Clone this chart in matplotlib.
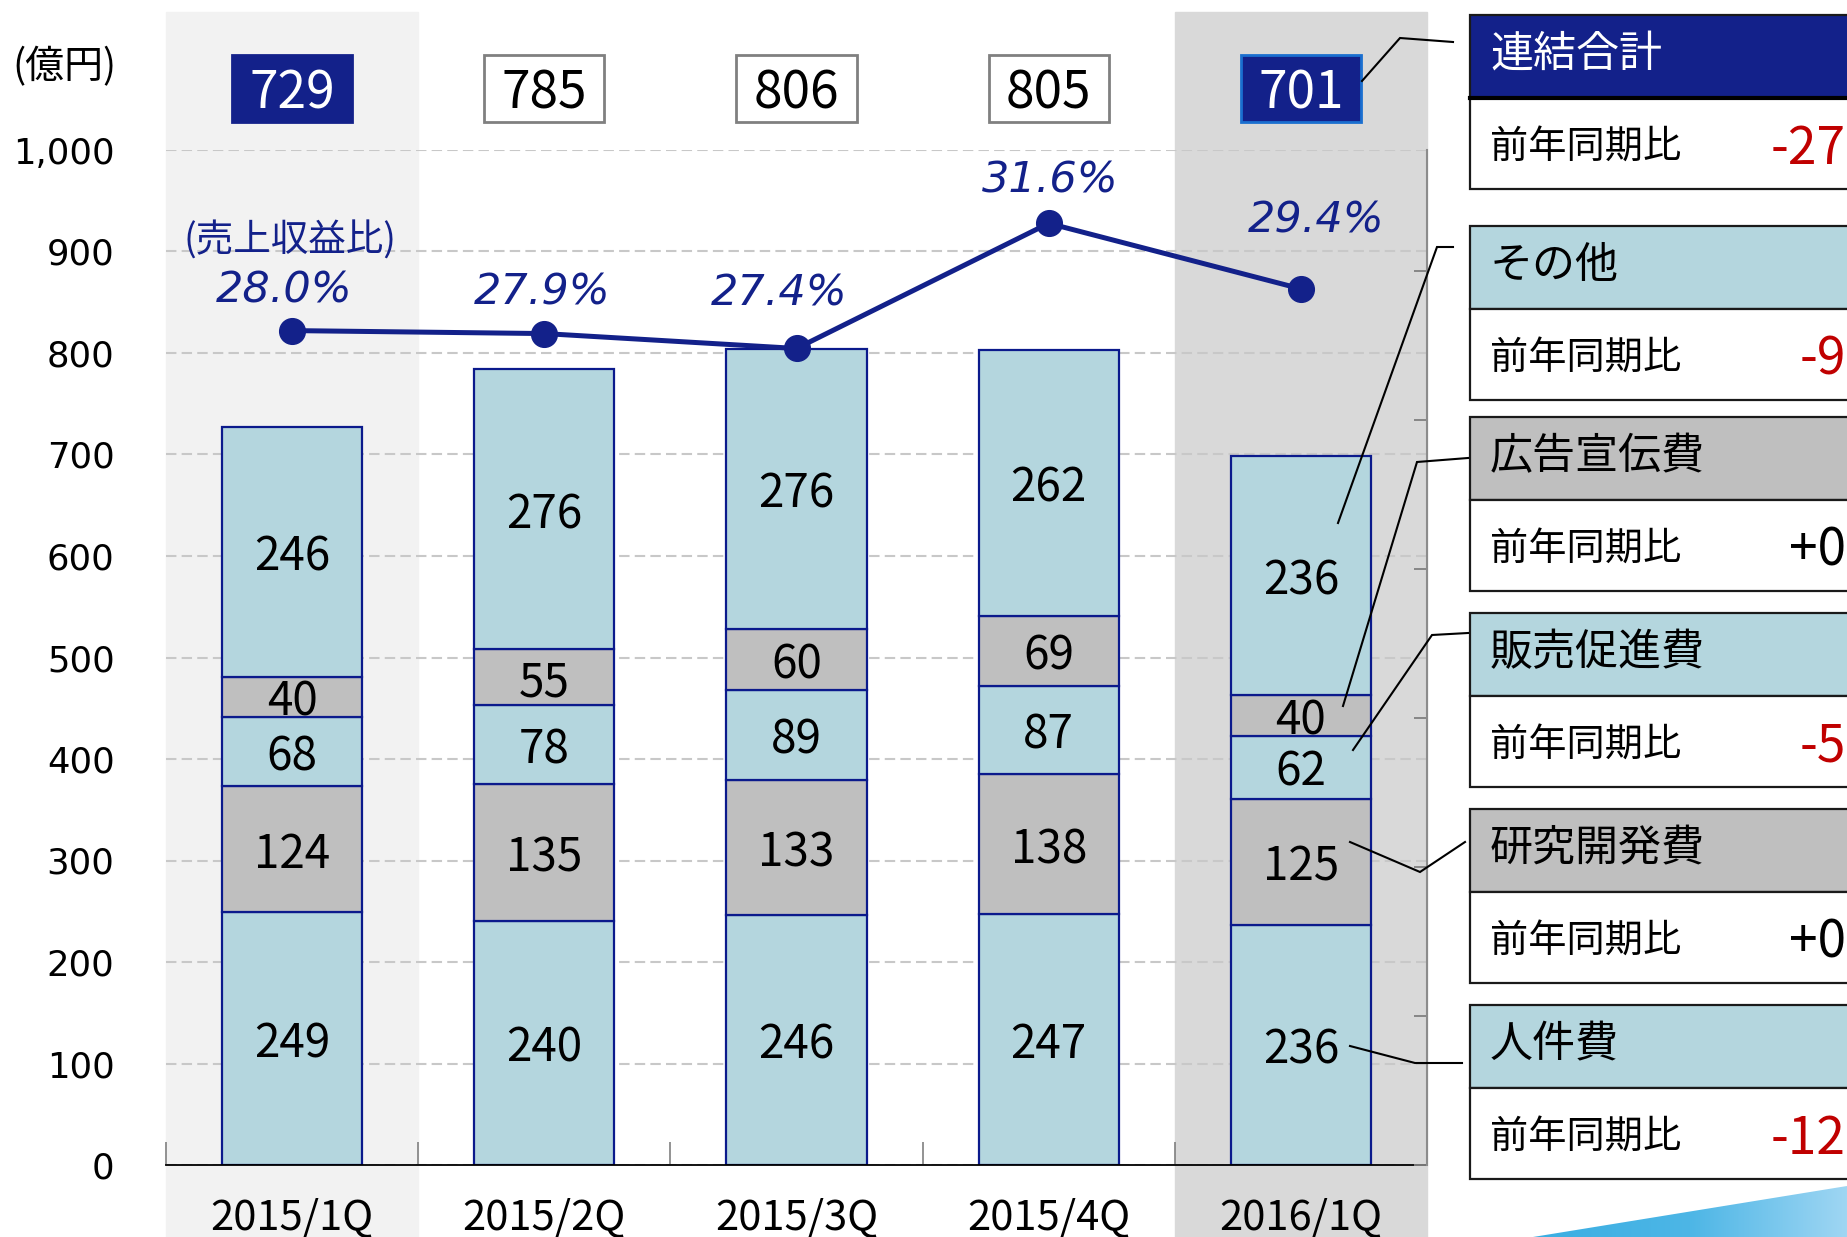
import matplotlib
matplotlib.use('Agg')
import matplotlib.pyplot as plt
import matplotlib.transforms as mtransforms
from matplotlib.patches import Rectangle, Polygon
from matplotlib.colors import LinearSegmentedColormap
import numpy as np

JP = 'Noto Sans CJK JP'
plt.rcParams['font.family'] = [JP, 'DejaVu Sans']

# data (億円)
quarters = ['2015/1Q', '2015/2Q', '2015/3Q', '2015/4Q', '2016/1Q']
personnel = [249, 240, 246, 247, 236]   # 人件費
rnd = [124, 135, 133, 138, 125]         # 研究開発費
promo = [68, 78, 89, 87, 62]            # 販売促進費
advert = [40, 55, 60, 69, 40]           # 広告宣伝費
other = [246, 276, 276, 262, 236]       # その他
totals = [729, 785, 806, 805, 701]
ratio = [28.0, 27.9, 27.4, 31.6, 29.4]  # 売上収益比 (%)

panel_names = ['連結合計', 'その他', '広告宣伝費', '販売促進費', '研究開発費', '人件費']
panel_yoy = ['-27', '-9', '+0', '-5', '+0', '-12']

NAVY = '#13218a'
LBLUE = '#b4d6de'
GRAY = '#bfbfbf'
EDGE = '#0b1a8c'
RED = '#c00000'

W, H = 1847, 1237
fig = plt.figure(figsize=(W / 100, H / 100), dpi=100)
fig.patch.set_facecolor('white')

ax = fig.add_axes([166 / W, 1 - 1165 / H, (1427 - 166) / W, (1165 - 150) / H])
ax.set_xlim(-0.5, 4.5)
ax.set_ylim(0, 1000)
ax.patch.set_alpha(0)

# column shading for first and last quarter
tf = mtransforms.blended_transform_factory(ax.transData, fig.transFigure)
ax.add_patch(Rectangle((-0.5, 0), 1, 1 - 12 / H, transform=tf, color='#f2f2f2',
                       zorder=0, clip_on=False))
ax.add_patch(Rectangle((3.5, 0), 1, 1 - 12 / H, transform=tf, color='#d9d9d9',
                       zorder=0, clip_on=False))

ax.set_axisbelow(True)
ax.yaxis.grid(True, color='#c8c8c8', linestyle=(0, (5, 2.5)), linewidth=1.5)

x = np.arange(len(quarters))
bottom = np.zeros(len(quarters))
for vals, col in [(personnel, LBLUE), (rnd, GRAY), (promo, LBLUE), (advert, GRAY), (other, LBLUE)]:
    bars = ax.bar(x, vals, 0.556, bottom=bottom, color=col, edgecolor=EDGE,
                  linewidth=1.6, zorder=2)
    labels = ax.bar_label(bars, labels=[str(v) for v in vals], label_type='center',
                          fontsize=33, fontfamily=JP)
    for lb in labels:
        lb.set_verticalalignment('center_baseline')
    bottom += np.array(vals)

ax.set_xticks(x)
ax.set_xticklabels(quarters, fontsize=30)
ax.tick_params(axis='x', which='major', length=0, pad=24)
ax.set_xticks(np.arange(-0.5, 5, 1), minor=True)
ax.tick_params(axis='x', which='minor', direction='in', length=16.5, color='#808080', width=1.2)

yt = np.arange(0, 1001, 100)
ax.set_yticks(yt)
ax.set_yticklabels([f'{v:,}' for v in yt], fontsize=25.5, fontfamily='DejaVu Sans')
ax.tick_params(axis='y', length=0, pad=37)
for s in ['left', 'top', 'right']:
    ax.spines[s].set_visible(False)
ax.spines['bottom'].set_color('black')
ax.spines['bottom'].set_linewidth(1.3)

fig.text(12 / W, 1 - 67 / H, '(億円)', fontsize=28, va='center', ha='left')

# total boxes
tb = mtransforms.blended_transform_factory(ax.transData, ax.transAxes)
box_face = [NAVY, 'white', 'white', 'white', NAVY]
box_edge = [NAVY, '#808080', '#808080', '#808080', '#1a6fd0']
box_text = ['white', 'black', 'black', 'black', 'white']
for i, t in enumerate(totals):
    ax.add_patch(Rectangle((i - 0.238, 1.0276), 0.476, 0.066, transform=tb,
                           facecolor=box_face[i], edgecolor=box_edge[i], linewidth=2,
                           clip_on=False, zorder=3))
    ax.text(i, 1.061, str(t), transform=tb, ha='center', va='center_baseline', fontsize=37,
            color=box_text[i], fontfamily=JP, zorder=4)

# ratio line
ax2 = ax.twinx()
ax2.set_ylim(0, 34.06)
ax2.set_yticks(np.arange(0, 31, 5))
ax2.tick_params(axis='y', direction='in', length=9.5, color='#808080', width=1.3,
                labelright=False)
for s in ['left', 'top', 'bottom']:
    ax2.spines[s].set_visible(False)
ax2.spines['right'].set_color('#8c8c8c')
ax2.spines['right'].set_linewidth(1.5)
ax2.plot(x, ratio, color=NAVY, linewidth=3.6, marker='o', markersize=18.5, zorder=3)

offsets = [(-8, 45), (-2, 46), (-17, 59), (2, 47), (15, 73)]
for xi, r, off in zip(x, ratio, offsets):
    ax2.annotate(f'{r:.1f}%', (xi, r), xytext=off, textcoords='offset pixels',
                 ha='center', va='center_baseline', color=NAVY, fontsize=31,
                 fontfamily='DejaVu Sans', fontstyle='italic')
ax2.annotate('(売上収益比)', (x[0], ratio[0]), xytext=(-2, 90), textcoords='offset pixels',
             ha='center', va='center', color=NAVY, fontsize=27, fontfamily=JP)

# right-hand panel, in pixel coordinates
fg = fig.add_axes([0, 0, 1, 1], zorder=5)
fg.patch.set_alpha(0)
fg.axis('off')

panel_tops = [15, 226, 417, 613, 809, 1005]
panel_head = [NAVY, LBLUE, GRAY, LBLUE, GRAY, LBLUE]
for k, (name, yoy) in enumerate(zip(panel_names, panel_yoy)):
    top = panel_tops[k]
    fg.add_patch(Rectangle((1470, top), 420, 83, facecolor=panel_head[k],
                           edgecolor='#1a1a1a', linewidth=1.6))
    fg.add_patch(Rectangle((1470, top + 83), 420, 91, facecolor='white',
                           edgecolor='#1a1a1a', linewidth=1.6))
    if k == 0:
        fg.plot([1470, 1890], [top + 83, top + 83], color='black', linewidth=3)
    fg.text(1490, top + 40, name, fontsize=31, va='center', ha='left',
            color='white' if k == 0 else 'black', fontfamily=JP)
    fg.text(1490, top + 132, '前年同期比', fontsize=27.5, va='center', ha='left',
            color='black', fontfamily=JP)
    fg.text(1846, top + 128, yoy, fontsize=37, va='center_baseline', ha='right',
            color=RED if yoy.startswith('-') else 'black', fontfamily=JP)

leaders = [
    [(1362, 81), (1400, 38), (1453, 42)],
    [(1338, 523), (1437, 247), (1453, 247)],
    [(1343, 706), (1417, 462), (1468, 458)],
    [(1353, 750), (1432, 635), (1468, 633)],
    [(1350, 842), (1420, 872), (1465, 842)],
    [(1350, 1046), (1415, 1063), (1462, 1063)],
]
for pts in leaders:
    xs, ys = zip(*pts)
    fg.plot(xs, ys, color='black', linewidth=1.5, solid_joinstyle='miter')

# decorative swoosh bottom right
poly = Polygon([(1533, 1237), (1847, 1186), (1847, 1237)], closed=True,
               facecolor='none', edgecolor='none')
fg.add_patch(poly)
grad = np.linspace(0, 1, 256).reshape(1, -1)
cmap = LinearSegmentedColormap.from_list('sw', ['#3aaee2', '#4db6e6', '#9fd6f3'])
im = fg.imshow(grad, extent=(1533, 1847, 1237, 1186), cmap=cmap, aspect='auto')
im.set_clip_path(poly)

fg.set_xlim(0, W)
fg.set_ylim(H, 0)

fig.savefig('out.png', dpi=100)
